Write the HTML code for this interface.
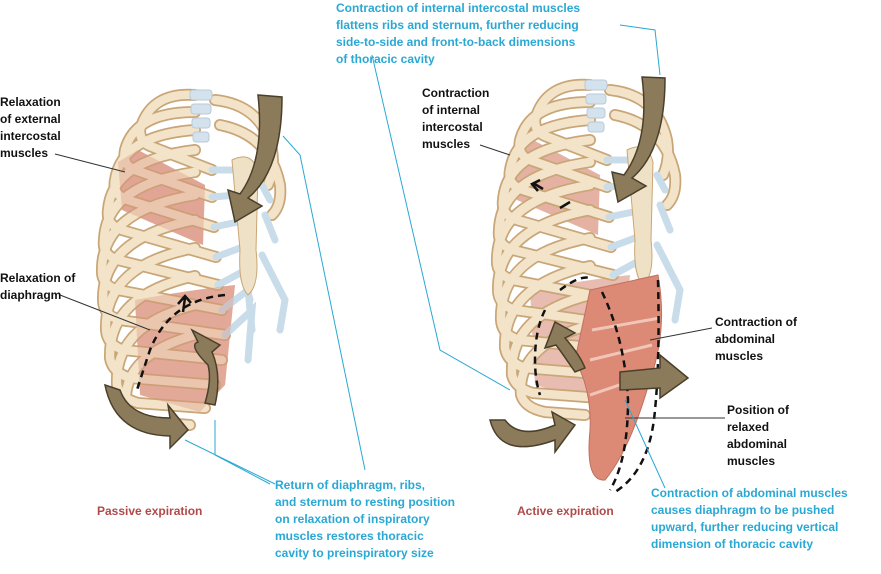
<!DOCTYPE html>
<html><head><meta charset="utf-8"><style>
html,body{margin:0;padding:0;background:#fff;width:881px;height:574px;overflow:hidden}
svg{display:block}
text{font-family:"Liberation Sans",Arial,sans-serif;font-weight:bold;font-size:12px}
.k{fill:#111}.c{fill:#2aa8d4}.r{fill:#b04a4a}
</style></head><body>
<svg width="881" height="574" viewBox="0 0 881 574" xmlns="http://www.w3.org/2000/svg">
<defs>
<g id="ribs" fill="none" stroke-linecap="round">
  <path d="M195 95 Q150 92 140 130 Q140 142 150 146 L212 170"/>
  <path d="M195 112 Q135 112 125 150 Q122 165 135 170 L212 197"/>
  <path d="M195 130 Q122 135 115 180 Q112 195 128 200 L214 227"/>
  <path d="M195 150 Q112 160 108 210 Q106 225 122 230 L216 257"/>
  <path d="M195 172 Q106 185 104 240 Q102 255 118 260 L218 285"/>
  <path d="M195 195 Q102 210 102 270 Q101 285 118 290 L222 310"/>
  <path d="M195 220 Q102 238 103 300 Q103 315 120 320 L225 335"/>
  <path d="M195 248 Q104 265 106 330 Q107 345 124 350 L222 360"/>
  <path d="M195 276 Q108 295 110 358 Q112 372 130 378 L215 385"/>
  <path d="M195 305 Q114 325 117 385 Q120 398 138 403 L205 408"/>
  <path d="M195 335 Q122 355 126 405 Q130 418 150 422 L190 425"/>
  <path d="M215 100 Q262 105 272 150 Q275 170 268 185"/>
  <path d="M220 125 Q270 135 280 185 Q282 205 272 215"/>
</g>
<g id="cage">
  <use href="#ribs" stroke="#c9a677" stroke-width="12"/>
  <use href="#ribs" stroke="#f3e4c9" stroke-width="8.5"/>
  <g stroke="#c8dcea" stroke-width="7" fill="none" stroke-linecap="round">
    <path d="M212 170 L235 170"/><path d="M212 197 L237 195"/>
    <path d="M214 227 L238 222"/><path d="M216 257 L240 248"/>
    <path d="M218 285 L242 272 L250 300"/>
    <path d="M222 310 L248 290 L252 330"/>
    <path d="M225 335 L252 310 L248 360"/>
    <path d="M262 185 L270 200"/><path d="M265 215 L275 240"/>
    <path d="M262 255 L285 300 L280 330"/>
  </g>
  <g fill="#d4e2ee" stroke="#b8c9d8">
    <rect x="190" y="90" width="22" height="10" rx="3"/>
    <rect x="191" y="104" width="20" height="10" rx="3"/>
    <rect x="192" y="118" width="18" height="10" rx="3"/>
    <rect x="193" y="132" width="16" height="10" rx="3"/>
  </g>
  <path d="M232 160 Q252 150 258 172 L256 250 Q260 285 248 295 Q238 285 240 250 Z" fill="#efe1c6" stroke="#c9a677"/>
</g>
</defs>

<!-- LEFT CAGE -->
<path d="M118 162 L138 150 L205 185 L203 245 L122 210 Z" fill="#d9907c" opacity="0.7"/>
<path d="M135 300 Q190 290 235 285 L225 385 L200 412 L140 395 Z" fill="#d9907c" opacity="0.65"/>
<use href="#cage"/>
<path d="M118 162 L138 150 L205 185 L203 245 L122 210 Z" fill="#d9907c" opacity="0.35"/>
<path d="M135 300 Q190 290 235 285 L225 385 L200 412 L140 395 Z" fill="#d9907c" opacity="0.35"/>
<g fill="none" stroke="#111" stroke-width="2.5" stroke-dasharray="7,5">
  <path d="M225 295 Q170 300 150 350 Q140 380 137 390"/>
</g>
<path d="M183 312 L185 298 M178 304 L185 296 L191 303" stroke="#111" stroke-width="2.5" fill="none"/>
<g fill="#8c7b5a" stroke="#4a3f2a" stroke-width="1.5">
  <path d="M258 95 L282 97 Q282 170 248 198 L262 206 L235 222 L228 190 L240 194 Q265 160 258 95 Z"/>
  <path d="M105 385 L120 390 Q130 418 170 418 L168 405 L188 430 L170 448 L170 436 Q115 435 105 385 Z"/>
  <path d="M208 365 Q188 345 198 342 L192 330 L220 345 L212 352 Q222 375 215 405 L205 403 Q212 380 208 365 Z"/>
</g>

<!-- RIGHT CAGE -->
<g transform="translate(395,-10)">
  <path d="M118 162 L138 150 L205 185 L203 245 L122 210 Z" fill="#d9907c" opacity="0.7"/>
  <path d="M135 300 Q190 290 235 285 L225 385 L200 412 L140 395 Z" fill="#d9907c" opacity="0.6"/>
  <use href="#cage"/>
</g>
<path d="M590 290 L658 275 Q668 330 650 380 Q630 450 605 480 Q585 482 590 430 Q592 390 575 360 Z" fill="#dc8a76" stroke="#c07060" stroke-width="1"/>
<g stroke="#f1c6b8" stroke-width="3" fill="none"><path d="M592 330 L660 318"/><path d="M590 360 L652 345"/><path d="M590 395 L640 378"/></g>
<g fill="none" stroke="#111" stroke-width="2.5" stroke-dasharray="7,5">
  <path d="M560 290 Q580 275 590 278"/>
  <path d="M545 310 Q535 330 535 360 Q535 380 540 395"/>
  <path d="M602 292 Q625 340 628 400 Q628 460 610 490"/>
  <path d="M658 280 Q660 360 655 410 Q650 470 615 492"/>
</g>
<path d="M543 189 L533 183 M540 180 L532 184 L538 191" stroke="#111" stroke-width="2.5" fill="none"/>
<path d="M560 208 L570 202" stroke="#111" stroke-width="2.5"/>
<g fill="#8c7b5a" stroke="#4a3f2a" stroke-width="1.5">
  <path d="M642 77 L665 78 Q665 150 632 178 L646 186 L618 202 L612 172 L624 175 Q650 140 642 77 Z"/>
  <path d="M490 420 L505 420 Q520 440 555 425 L552 412 L575 425 L555 452 L555 440 Q500 460 490 420 Z"/>
  <path d="M575 372 Q560 350 556 345 L545 348 L555 322 L575 333 L565 338 Q580 355 585 368 Z"/>
  <path d="M620 372 L660 368 L660 355 L688 378 L660 398 L660 388 L620 390 Z"/>
</g>

<!-- leader lines -->
<g stroke="#333" stroke-width="1" fill="none">
  <path d="M55 154 L125 172"/>
  <path d="M60 295 L150 330"/>
  <path d="M480 145 L510 155"/>
  <path d="M712 328 L650 340"/>
  <path d="M725 418 L625 418"/>
</g>
<g stroke="#2aa8d4" stroke-width="1" fill="none">
  <path d="M283 136 L300 155 L365 470"/>
  <path d="M185 440 L275 484"/>
  <path d="M215 420 L215 455 L270 484"/>
  <path d="M372 55 L440 350 L510 390"/>
  <path d="M620 25 L655 30 L660 75"/>
  <path d="M625 400 L665 488"/>
</g>

<g class="c">
  <text x="336" y="12">Contraction of internal intercostal muscles</text>
  <text x="336" y="29">flattens ribs and sternum, further reducing</text>
  <text x="336" y="46">side-to-side and front-to-back dimensions</text>
  <text x="336" y="63">of thoracic cavity</text>
  <text x="275" y="489">Return of diaphragm, ribs,</text>
  <text x="275" y="506">and sternum to resting position</text>
  <text x="275" y="523">on relaxation of inspiratory</text>
  <text x="275" y="540">muscles restores thoracic</text>
  <text x="275" y="557">cavity to preinspiratory size</text>
  <text x="651" y="497">Contraction of abdominal muscles</text>
  <text x="651" y="514">causes diaphragm to be pushed</text>
  <text x="651" y="531">upward, further reducing vertical</text>
  <text x="651" y="548">dimension of thoracic cavity</text>
</g>
<g class="k">
  <text x="0" y="106">Relaxation</text>
  <text x="0" y="123">of external</text>
  <text x="0" y="140">intercostal</text>
  <text x="0" y="157">muscles</text>
  <text x="0" y="282">Relaxation of</text>
  <text x="0" y="299">diaphragm</text>
  <text x="422" y="97">Contraction</text>
  <text x="422" y="114">of internal</text>
  <text x="422" y="131">intercostal</text>
  <text x="422" y="148">muscles</text>
  <text x="715" y="326">Contraction of</text>
  <text x="715" y="343">abdominal</text>
  <text x="715" y="360">muscles</text>
  <text x="727" y="414">Position of</text>
  <text x="727" y="431">relaxed</text>
  <text x="727" y="448">abdominal</text>
  <text x="727" y="465">muscles</text>
</g>
<text class="r" x="97" y="515">Passive expiration</text>
<text class="r" x="517" y="515">Active expiration</text>
</svg>
</body></html>
